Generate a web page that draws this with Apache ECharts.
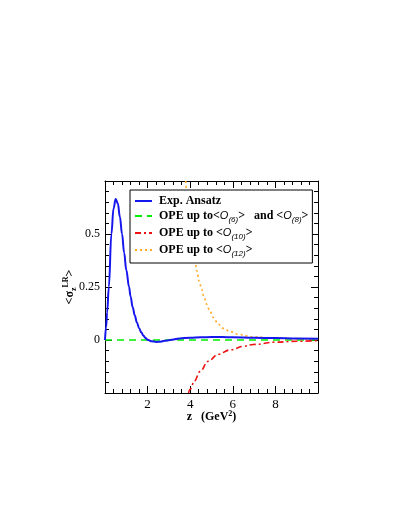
<!DOCTYPE html>
<html>
<head>
<meta charset="utf-8">
<script src="https://cdn.jsdelivr.net/npm/echarts@6/dist/echarts.min.js"></script>
<style>html,body{margin:0;padding:0;background:#fff}#c{width:409px;height:529px}</style>
</head>
<body>
<div id="c"></div>
<script>
// Exp. Ansatz
var zBlue = [0, 0.05, 0.1, 0.18, 0.3, 0.4, 0.5, 0.6, 0.7, 0.8, 0.9, 1.0, 1.13, 1.2, 1.3, 1.4, 1.5, 1.6, 1.7, 1.8, 1.9, 2.0, 2.2, 2.4, 2.6, 2.8, 3.05, 3.5, 4.0, 4.5, 5.0, 5.5, 6.0, 7.0, 8.0, 9.0, 10.0];
var vBlue = [0, 0.06, 0.13, 0.25, 0.5, 0.62, 0.665, 0.645, 0.58, 0.50, 0.41, 0.33, 0.25, 0.205, 0.155, 0.115, 0.082, 0.056, 0.036, 0.021, 0.009, 0.001, -0.006, -0.009, -0.008, -0.004, 0.0, 0.007, 0.011, 0.013, 0.014, 0.014, 0.013, 0.011, 0.009, 0.007, 0.006];
// OPE up to O6 and O8
var zGreen = [0, 10];
var vGreen = [0, 0];
// OPE up to O10
var zRed = [3.92, 4.0, 4.2, 4.46, 4.85, 5.3, 5.87, 6.5, 6.96, 8.05, 9.0, 10.0];
var vRed = [-0.25, -0.232, -0.193, -0.149, -0.10, -0.068, -0.047, -0.030, -0.021, -0.010, -0.006, -0.003];
// OPE up to O12
var zOrange = [3.79, 3.9, 4.0, 4.1, 4.23, 4.31, 4.42, 4.54, 4.65, 4.78, 4.93, 5.09, 5.32, 5.55, 5.87, 6.26, 6.65, 7.04, 8.0, 9.0, 10.0];
var vOrange = [0.75, 0.63, 0.54, 0.46, 0.376, 0.326, 0.278, 0.239, 0.2, 0.168, 0.134, 0.106, 0.074, 0.055, 0.04, 0.027, 0.019, 0.014, 0.008, 0.005, 0.003];

var seriesNames = ['Exp. Ansatz', 'O6O8', 'O10', 'O12'];
var xTicks = {min: 0, max: 10, interval: 2};
var yTicks = {min: -0.25, max: 0.75, interval: 0.25};

function pairs(z, v) { return z.map(function (x, i) { return [x, v[i]]; }); }

var serif = 'Liberation Serif';
var chart = echarts.init(document.getElementById('c'), null, {renderer: 'canvas'});

var richLegend = {
  b: {fontFamily: serif, fontWeight: 'bold', fontSize: 12, color: '#000'},
  i: {fontFamily: 'Liberation Sans', fontStyle: 'italic', fontSize: 11, color: '#000'},
  s: {fontFamily: 'Liberation Sans', fontStyle: 'italic', fontSize: 8, color: '#000', padding: [8, 0, 0, 0]}
};
function legendText(name) {
  if (name === 'Exp. Ansatz') return '{b|Exp. Ansatz}';
  if (name === 'O6O8') return '{b|OPE up to<}{i|O}{s|(6)}{b|>   and <}{i|O}{s|(8)}{b|>}';
  if (name === 'O10') return '{b|OPE up to <}{i|O}{s|(10)}{b|>}';
  return '{b|OPE up to <}{i|O}{s|(12)}{b|>}';
}

function axisCommon() {
  return {
    axisLine: {show: true, onZero: false, lineStyle: {color: '#000', width: 1}},
    splitLine: {show: false},
    axisTick: {show: true, inside: true, length: 7, lineStyle: {color: '#000'}},
    minorTick: {show: true, splitNumber: 5, length: 4, lineStyle: {color: '#000'}}
  };
}

var option = {
  animation: false,
  backgroundColor: '#fff',
  grid: {left: 105, top: 181, width: 213, height: 212, containLabel: false},
  legend: {
    data: seriesNames,
    orient: 'vertical',
    left: 130, top: 190,
    backgroundColor: '#fff',
    borderColor: '#000', borderWidth: 1,
    padding: [5, 4, 5, 4],
    itemGap: 3,
    itemWidth: 17, itemHeight: 13,
    itemStyle: {opacity: 0},
    formatter: legendText,
    textStyle: {rich: richLegend, padding: [0, 0, 0, 2]},
    z: 10
  },
  xAxis: [
    Object.assign(axisCommon(), {
      type: 'value', position: 'bottom', min: xTicks.min, max: xTicks.max, interval: xTicks.interval,
      axisLabel: {show: true, showMinLabel: false, showMaxLabel: false, fontFamily: serif, fontSize: 13, color: '#000', margin: 5},
      name: '{b|z   (GeV}{p|2}{b|)}', nameLocation: 'middle', nameGap: 17, nameMoveOverlap: false,
      nameTextStyle: {rich: {
        b: {fontFamily: serif, fontWeight: 'bold', fontSize: 12, color: '#000'},
        p: {fontFamily: serif, fontWeight: 'bold', fontSize: 8, color: '#000', padding: [0, 0, 5, 0]}
      }}
    }),
    Object.assign(axisCommon(), {
      type: 'value', position: 'top', min: xTicks.min, max: xTicks.max, interval: xTicks.interval,
      axisLabel: {show: false}
    })
  ],
  yAxis: [
    Object.assign(axisCommon(), {
      type: 'value', position: 'left', min: yTicks.min, max: yTicks.max, interval: yTicks.interval,
      axisLabel: {show: true, showMinLabel: false, showMaxLabel: false, fontFamily: serif, fontSize: 12, color: '#000', margin: 5,
        formatter: function (v) { return String(Math.round(v * 100) / 100); }},
      name: '{a|<σ}{s|z}{p|LR}{a|>}', nameLocation: 'middle', nameGap: 27, nameRotate: 90, nameMoveOverlap: false,
      nameTextStyle: {rich: {
        a: {fontFamily: serif, fontWeight: 'bold', fontSize: 12, color: '#000'},
        s: {fontFamily: serif, fontWeight: 'bold', fontSize: 8, color: '#000', padding: [8, 0, 0, 0]},
        p: {fontFamily: serif, fontWeight: 'bold', fontSize: 8, color: '#000', padding: [0, 0, 8, 0]}
      }}
    }),
    Object.assign(axisCommon(), {
      type: 'value', position: 'right', min: yTicks.min, max: yTicks.max, interval: yTicks.interval,
      axisLabel: {show: false}
    })
  ],
  series: [
    {name: 'Exp. Ansatz', type: 'line', data: pairs(zBlue, vBlue), showSymbol: false, symbol: 'none', smooth: 0.4, smoothMonotone: 'x',
      lineStyle: {color: '#1515ee', width: 2}, itemStyle: {color: '#1515ee'}, z: 3},
    {name: 'O6O8', type: 'line', data: pairs(zGreen, vGreen), symbol: 'none',
      lineStyle: {color: '#00ee00', width: 1.6, type: [7, 5]}, itemStyle: {color: '#00ee00'}, z: 2},
    {name: 'O10', type: 'line', data: pairs(zRed, vRed), symbol: 'none', smooth: 0.4, smoothMonotone: 'x',
      lineStyle: {color: '#ee1111', width: 1.6, type: [6, 3, 2, 3]}, itemStyle: {color: '#ee1111'}, z: 2},
    {name: 'O12', type: 'line', data: pairs(zOrange, vOrange), symbol: 'none', smooth: 0.4, smoothMonotone: 'x',
      lineStyle: {color: '#ffaa22', width: 1.6, type: [2, 3]}, itemStyle: {color: '#ffaa22'}, z: 2}
  ]
};
chart.setOption(option);
</script>
</body>
</html>
